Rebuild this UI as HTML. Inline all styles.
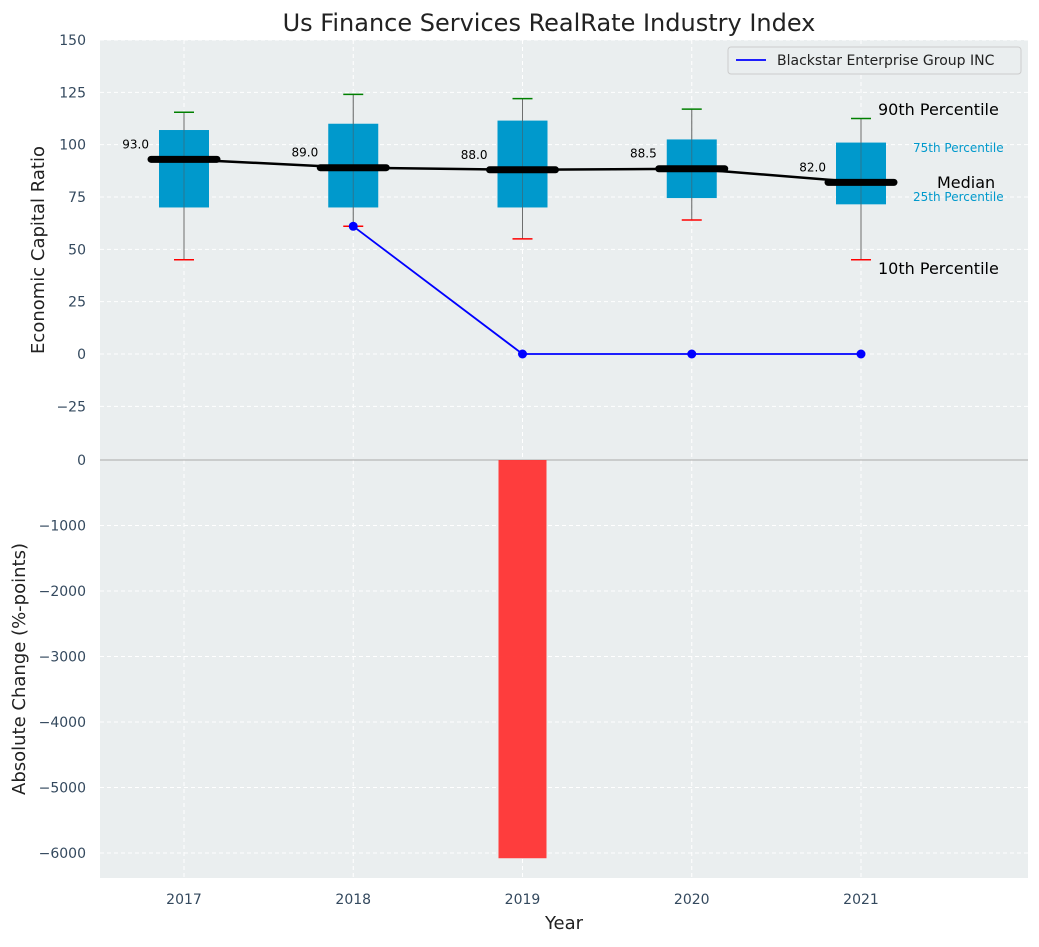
<!DOCTYPE html>
<html><head><meta charset="utf-8"><style>
body{margin:0;background:#fff;font-family:"Liberation Sans","DejaVu Sans",sans-serif;}
svg text{font-family:"DejaVu Sans","Liberation Sans",sans-serif;}
</style></head><body>
<svg id="c" width="1039" height="942" xmlns="http://www.w3.org/2000/svg"></svg>
<script>
const years=[2017,2018,2019,2020,2021];
const p10=[45,61,55,64,45];
const p25=[70,70,70,74.5,71.5];
const med=[93,89,88,88.5,82];
const p75=[107,110,111.5,102.5,101];
const p90=[115.5,124,122,117,112.5];
const compYears=[2018,2019,2020,2021];
const compVals=[61,0,0,0];
const changeVals=[0,0,-6080,0,0];
const topTicks=[150,125,100,75,50,25,0,-25];
const botTicks=[0,-1000,-2000,-3000,-4000,-5000,-6000];

const svg=document.getElementById('c');
const NS='http://www.w3.org/2000/svg';
function el(t,a,txt){const e=document.createElementNS(NS,t);for(const k in a)e.setAttribute(k,a[k]);if(txt!==undefined)e.textContent=txt;svg.appendChild(e);return e;}
const L=100,R=1028,T1=40,B1=460,T2=460,B2=878;
const X=v=>184+(v-2017)*169.25;
const Y1=v=>354-v*2.0933;
const Y2=v=>460-v*0.0655;
let e;
e=el('rect',{x:L,y:T1,width:R-L,height:B2-T1,fill:'#eaeeef'});


topTicks.forEach(t=>{
 e=el('line',{x1:L,x2:R,y1:Y1(t),y2:Y1(t),stroke:'#fff','stroke-dasharray':'4,3','stroke-width':1});
 
 e=el('text',{x:86,y:Y1(t)+5,'text-anchor':'end','font-size':14,fill:'#34495e'},t<0?'\u2212'+(-t):t);
 
});
botTicks.forEach(t=>{
 e=el('line',{x1:L,x2:R,y1:Y2(t),y2:Y2(t),stroke:'#fff','stroke-dasharray':'4,3','stroke-width':1});
 
 e=el('text',{x:86,y:Y2(t)+5,'text-anchor':'end','font-size':14,fill:'#34495e'},t<0?'\u2212'+(-t):t);
 
});
years.forEach(y=>{
 e=el('line',{x1:X(y),x2:X(y),y1:T1,y2:B2,stroke:'#fff','stroke-dasharray':'4,3','stroke-width':1});
 
 e=el('text',{x:X(y),y:904,'text-anchor':'middle','font-size':14,fill:'#34495e'},y);
 
});
e=el('line',{x1:L,x2:R,y1:460,y2:460,stroke:'#aaa','stroke-width':1});

years.forEach((y,i)=>{
 if(changeVals[i]===0)return;
 const y0=Y2(0),y1=Y2(changeVals[i]);
 e=el('rect',{x:X(y)-24,y:Math.min(y0,y1),width:48,height:Math.abs(y1-y0),fill:'#ff3333',opacity:0.95});
 
});
years.forEach((y,i)=>{
 const x=X(y);
 e=el('line',{x1:x,x2:x,y1:Y1(p10[i]),y2:Y1(p90[i]),stroke:'#888','stroke-width':1});
 
 e=el('rect',{x:x-25,y:Y1(p75[i]),width:50,height:Y1(p25[i])-Y1(p75[i]),fill:'#0099cc'});
 
 e=el('line',{x1:x,x2:x,y1:Y1(p10[i]),y2:Y1(p90[i]),stroke:'#555','stroke-width':1,opacity:0.5});
 
 e=el('line',{x1:x-10,x2:x+10,y1:Y1(p90[i]),y2:Y1(p90[i]),stroke:'green','stroke-width':1.5});
 
 e=el('line',{x1:x-10,x2:x+10,y1:Y1(p10[i]),y2:Y1(p10[i]),stroke:'red','stroke-width':1.5});
 
});
let d=years.map((y,i)=>(i?'L':'M')+X(y)+','+Y1(med[i])).join(' ');
e=el('path',{d:d,stroke:'#000','stroke-width':2.5,fill:'none'});

years.forEach((y,i)=>{
 const x=X(y);
 e=el('line',{x1:x-33,x2:x+33,y1:Y1(med[i]),y2:Y1(med[i]),stroke:'#000','stroke-width':7,'stroke-linecap':'round'});
 
 e=el('text',{x:x-35,y:Y1(med[i])-11,'text-anchor':'end','font-size':12,fill:'#000'},med[i].toFixed(1));
 
});
d=compYears.map((y,i)=>(i?'L':'M')+X(y)+','+Y1(compVals[i])).join(' ');
e=el('path',{d:d,stroke:'blue','stroke-width':1.8,fill:'none'});

compYears.forEach((y,i)=>{
 e=el('circle',{cx:X(y),cy:Y1(compVals[i]),r:4.5,fill:'blue'});
 
});
const ann=[[878,115,'90th Percentile',16,'#000'],[913,152,'75th Percentile',12,'#0099cc'],[937,188,'Median',16,'#000'],[913,201,'25th Percentile',12,'#0099cc'],[878,274,'10th Percentile',16,'#000']];
ann.forEach(a=>{
 e=el('text',{x:a[0],y:a[1],'font-size':a[3],fill:a[4]},a[2]);
 
});
e=el('rect',{x:728,y:47,width:293,height:27,fill:'#eaeeef',stroke:'#ccc',rx:3});

e=el('line',{x1:736,x2:766,y1:60,y2:60,stroke:'blue','stroke-width':1.8});

e=el('text',{x:777,y:65,'font-size':14,fill:'#222'},'Blackstar Enterprise Group INC');

e=el('text',{x:549,y:31,'text-anchor':'middle','font-size':24,fill:'#222'},'Us Finance Services RealRate Industry Index');

e=el('text',{x:0,y:0,'text-anchor':'middle','font-size':18,fill:'#222',transform:'translate(44,250) rotate(-90)'},'Economic Capital Ratio');

e=el('text',{x:0,y:0,'text-anchor':'middle','font-size':18,fill:'#222',transform:'translate(25,669) rotate(-90)'},'Absolute Change (%-points)');

e=el('text',{x:564,y:929,'text-anchor':'middle','font-size':18,fill:'#222'},'Year');

</script>
</body></html>
